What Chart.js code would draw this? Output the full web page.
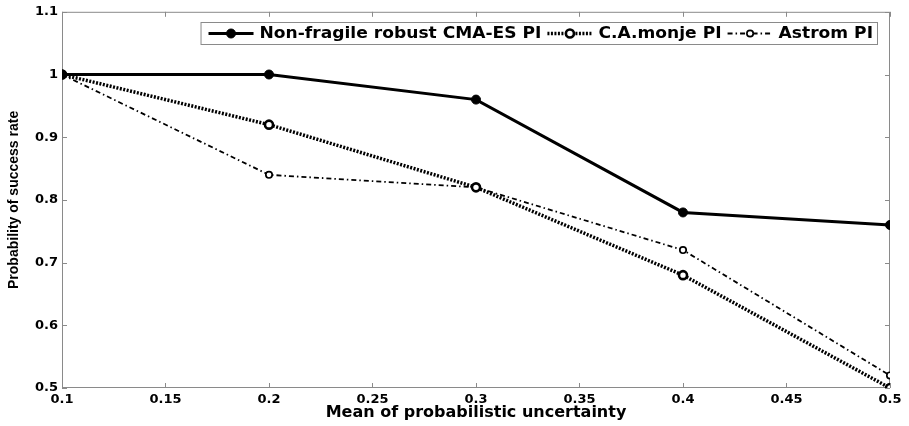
<!DOCTYPE html>
<html>
<head>
<meta charset="utf-8">
<script src="https://cdn.jsdelivr.net/npm/chart.js@4/dist/chart.umd.min.js"></script>
<style>
  html, body { margin: 0; padding: 0; background: #fff; }
  #wrap { width: 909px; height: 426px; }
</style>
</head>
<body>
<div id="wrap"><canvas id="successChart" width="909" height="426"></canvas></div>
<script>
// Success probability vs. mean of probabilistic uncertainty
const uncertaintyMeans = [0.1, 0.2, 0.3, 0.4, 0.5];
const cmaesPI = [1.0, 1.0, 0.96, 0.78, 0.76];
const monjePI = [1.0, 0.92, 0.82, 0.68, 0.50];
const astromPI = [1.0, 0.84, 0.82, 0.72, 0.52];
const seriesNames = ['Non-fragile robust CMA-ES PI', 'C.A.monje PI', 'Astrom PI'];

const FONT = '"DejaVu Sans", Arial, sans-serif';
const AXIS_GREY = '#8a8a8a';

function toPoints(values) {
    return uncertaintyMeans.map(function(x, i) { return { x: x, y: values[i] }; });
}

// grey box round the plot with short inward ticks on all four sides
const frameTicks = {
    id: 'frameTicks',
    beforeDatasetsDraw: function(chart) {
        const ctx = chart.ctx;
        const a = chart.chartArea;
        const xs = chart.scales.x, ys = chart.scales.y;
        const len = 5;
        ctx.save();
        ctx.strokeStyle = AXIS_GREY;
        ctx.lineWidth = 1;
        ctx.strokeRect(a.left + 0.5, a.top + 0.5, a.right - a.left - 1, a.bottom - a.top - 1);
        ctx.beginPath();
        xs.ticks.forEach(function(t) {
            const px = Math.round(xs.getPixelForValue(t.value)) + 0.5;
            ctx.moveTo(px, a.bottom); ctx.lineTo(px, a.bottom - len);
            ctx.moveTo(px, a.top); ctx.lineTo(px, a.top + len);
        });
        ys.ticks.forEach(function(t) {
            const py = Math.round(ys.getPixelForValue(t.value)) + 0.5;
            ctx.moveTo(a.left, py); ctx.lineTo(a.left + len, py);
            ctx.moveTo(a.right, py); ctx.lineTo(a.right - len, py);
        });
        ctx.stroke();
        ctx.restore();
    }
};

// boxed legend in the upper right, line sample with marker in its middle;
// the label text is drawn a little wide
const boxLegend = {
    id: 'boxLegend',
    afterDraw: function(chart) {
        const ctx = chart.ctx;
        const sets = chart.data.datasets;
        const sampleLen = 45, gapText = 6, gapItem = 6, padL = 8, padR = 4;
        const stretch = 1.14;
        const top = 22, h = 22, right = 877;
        ctx.save();
        ctx.font = 'bold 15px ' + FONT;
        const widths = sets.map(function(d) { return ctx.measureText(d.label).width * stretch; });
        let total = padL + padR;
        widths.forEach(function(w, i) { total += sampleLen + gapText + w + (i < widths.length - 1 ? gapItem : 0); });
        const left = right - total;
        ctx.fillStyle = '#fff';
        ctx.fillRect(left, top, total, h);
        ctx.strokeStyle = AXIS_GREY;
        ctx.lineWidth = 1;
        ctx.strokeRect(left + 0.5, top + 0.5, total, h);
        const cy = top + h / 2 + 0.5;
        let x = left + padL;
        sets.forEach(function(d, i) {
            ctx.strokeStyle = d.borderColor;
            ctx.lineWidth = d.borderWidth;
            ctx.setLineDash(d.borderDash || []);
            ctx.beginPath();
            ctx.moveTo(x, cy); ctx.lineTo(x + sampleLen, cy);
            ctx.stroke();
            ctx.setLineDash([]);
            ctx.beginPath();
            ctx.arc(x + sampleLen / 2, cy, d.pointRadius, 0, Math.PI * 2);
            ctx.fillStyle = d.pointBackgroundColor;
            ctx.fill();
            ctx.lineWidth = d.pointBorderWidth;
            ctx.strokeStyle = d.pointBorderColor;
            ctx.stroke();
            ctx.save();
            ctx.translate(x + sampleLen + gapText, cy + 1);
            ctx.scale(stretch, 1);
            ctx.fillStyle = '#000';
            ctx.textBaseline = 'middle';
            ctx.fillText(d.label, 0, 0);
            ctx.restore();
            x += sampleLen + gapText + widths[i] + gapItem;
        });
        ctx.restore();
    }
};

new Chart(document.getElementById('successChart'), {
    type: 'line',
    data: {
        datasets: [
            {
                label: seriesNames[0],
                data: toPoints(cmaesPI),
                borderColor: '#000',
                borderWidth: 3,
                pointRadius: 4.5,
                pointBackgroundColor: '#000',
                pointBorderColor: '#000',
                pointBorderWidth: 1,
                tension: 0
            },
            {
                label: seriesNames[1],
                data: toPoints(monjePI),
                borderColor: '#000',
                borderWidth: 3.5,
                borderDash: [2, 1.5],
                pointRadius: 4,
                pointBackgroundColor: '#fff',
                pointBorderColor: '#000',
                pointBorderWidth: 2.6,
                tension: 0
            },
            {
                label: seriesNames[2],
                data: toPoints(astromPI),
                borderColor: '#000',
                borderWidth: 1.8,
                borderDash: [5, 3, 1.5, 3],
                pointRadius: 3.2,
                pointBackgroundColor: '#fff',
                pointBorderColor: '#000',
                pointBorderWidth: 1.7,
                tension: 0
            }
        ]
    },
    options: {
        responsive: false,
        animation: false,
        layout: { padding: { top: 8, right: 19, left: 0, bottom: 4 } },
        plugins: {
            legend: { display: false },
            tooltip: { enabled: false }
        },
        scales: {
            x: {
                type: 'linear',
                min: 0.1,
                max: 0.5,
                afterFit: function(scale) { scale.height = 34; },
                grid: { display: false, drawTicks: false },
                border: { display: false },
                ticks: {
                    stepSize: 0.05,
                    padding: 4,
                    color: '#000',
                    font: { family: FONT, size: 13, weight: 'bold' },
                    callback: function(v) { return String(+v.toFixed(2)); }
                },
                title: {
                    display: true,
                    text: 'Mean of probabilistic uncertainty',
                    color: '#000',
                    font: { family: FONT, size: 16, weight: 'bold' },
                    padding: { top: 0, bottom: 0 }
                }
            },
            y: {
                min: 0.5,
                max: 1.1,
                afterFit: function(scale) { scale.width = 62; },
                grid: { display: false, drawTicks: false },
                border: { display: false },
                ticks: {
                    stepSize: 0.1,
                    padding: 4,
                    color: '#000',
                    font: { family: FONT, size: 13, weight: 'bold' },
                    callback: function(v) { return String(+v.toFixed(2)); }
                },
                title: {
                    display: true,
                    text: 'Probability of success rate',
                    color: '#000',
                    font: { family: '"Liberation Sans", Arial, sans-serif', size: 14, weight: 'bold' },
                    padding: { top: 6, bottom: 0 }
                }
            }
        }
    },
    plugins: [frameTicks, boxLegend]
});
</script>
</body>
</html>
